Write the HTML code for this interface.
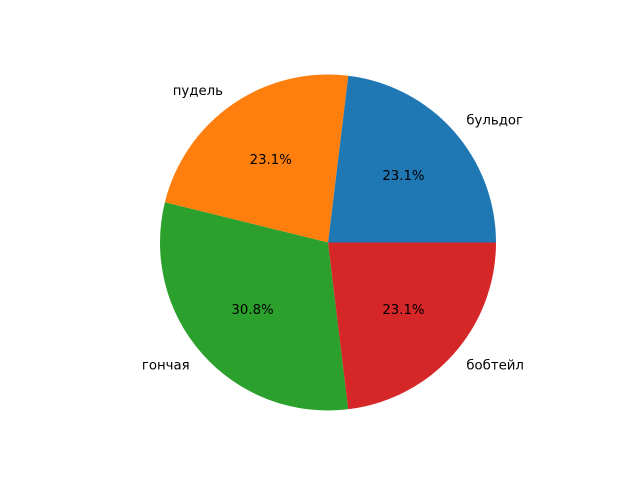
<!DOCTYPE html>
<html><head><meta charset="utf-8"><style>
html,body{margin:0;padding:0;background:#fff;}
svg{display:block;}
text{font-family:"DejaVu Sans","Liberation Sans",sans-serif;font-size:13.3px;fill:#000;}
</style></head><body>
<svg id="chart" width="640" height="480" viewBox="0 0 640 480"></svg>
<script>
const categories = ["бульдог", "пудель", "гончая", "бобтейл"];
const values = [3, 3, 4, 3];
const colors = ["#1f77b4", "#ff7f0e", "#2ca02c", "#d62728"];

const svg = document.getElementById('chart');
const NS = 'http://www.w3.org/2000/svg';
const cx = 328, cy = 242.5, R = 168;
const total = values.reduce((a, b) => a + b, 0);
function px(a, r) { return cx + r * Math.cos(a); }
function py(a, r) { return cy - r * Math.sin(a); }
let start = 0;
values.forEach((v, i) => {
  const sweep = v / total * 2 * Math.PI;
  const end = start + sweep;
  const large = sweep > Math.PI ? 1 : 0;
  const p = document.createElementNS(NS, 'path');
  p.setAttribute('d', `M${cx},${cy} L${px(start,R)},${py(start,R)} A${R},${R} 0 ${large} 0 ${px(end,R)},${py(end,R)} Z`);
  p.setAttribute('fill', colors[i]);
  
  
  svg.appendChild(p);
  const mid = start + sweep / 2;
  const lx = px(mid, R * 1.1), ly = py(mid, R * 1.1) + 1;
  const t = document.createElementNS(NS, 'text');
  t.setAttribute('x', lx);
  t.setAttribute('y', ly);
  t.setAttribute('dominant-baseline', 'central');
  t.setAttribute('text-anchor', Math.cos(mid) >= 0 ? 'start' : 'end');
  t.textContent = categories[i];
  
  
  svg.appendChild(t);
  const pt = document.createElementNS(NS, 'text');
  pt.setAttribute('x', px(mid, R * 0.6));
  pt.setAttribute('y', py(mid, R * 0.6) + 1);
  pt.setAttribute('dominant-baseline', 'central');
  pt.setAttribute('text-anchor', 'middle');
  pt.textContent = (v / total * 100).toFixed(1) + '%';
  
  
  svg.appendChild(pt);
  start = end;
});
</script>
</body></html>
